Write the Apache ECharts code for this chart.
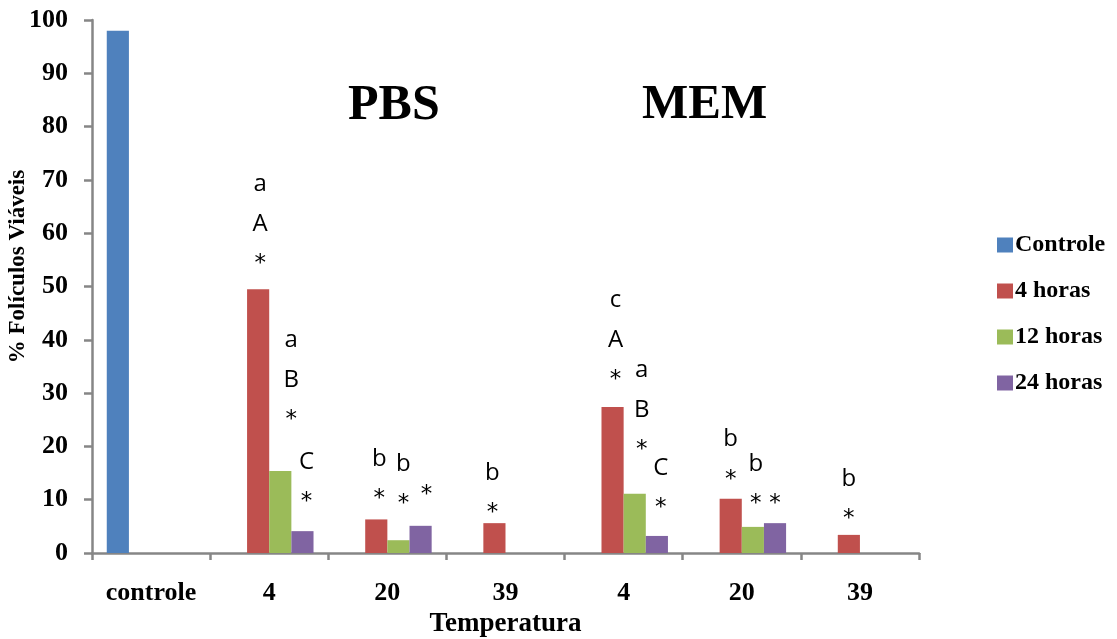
<!DOCTYPE html>
<html>
<head>
<meta charset="utf-8">
<script src="https://cdn.jsdelivr.net/npm/echarts@6/dist/echarts.min.js"></script>
<style>
html,body{margin:0;padding:0;background:#fff;}
#chart{width:1117px;height:639px;}
</style>
</head>
<body>
<div id="chart"></div>
<script>
// ---- data ----
const categories = ['controle', '4', '20', '39', '4', '20', '39'];
const seriesNames = ['Controle', '4 horas', '12 horas', '24 horas'];
const controle = [98, null, null, null, null, null, null];
const horas4  = [null, 49.5, 6.3, 5.6, 27.4, 10.2, 3.4];
const horas12 = [null, 15.4, 2.4, null, 11.1, 4.9, null];
const horas24 = [null, 4.1, 5.1, null, 3.2, 5.6, null];
// significance annotations
const ann4  = ['', 'a\nA\n*', 'b\n*', 'b\n*', 'c\nA\n*', 'b\n*', 'b\n*'];
const ann12 = ['', 'a\nB\n*', 'b\n*', '', 'a\nB\n*', 'b\n*', ''];
const ann24 = ['', 'C\n*', '*', '', 'C\n*', '*', ''];
const groupTitles = ['PBS', 'MEM'];
const yTicks = { min: 0, max: 100, interval: 10 };

// ---- layout (label placement, px) ----
const lift4  = [0, 27, 22, 12, 29, 21, 18], shift4  = [0, 2, 3, -2, 3, 0, 0];
const lift12 = [0, 53, 38, 0, 46, 25, 0],   shift12 = [0, 11, 5, 0, 7, 3, 0];
const lift24 = [0, 31, 33, 0, 30, 21, 0],   shift24 = [0, 4, 6, 0, 4, 0, 0];
const STAR_K = 22;

const serif = 'Liberation Serif';
const annFont = { fontFamily: 'Open Sans', fontSize: 24, lineHeight: 40, color: '#000' };
const annRich = { s: { fontFamily: 'DejaVu Sans', fontSize: 23, lineHeight: 40, color: '#000' } };

function fmt(t) {
  return t.split('\n').map(l => l === '*' ? '{s|*}' : l).join('\n');
}

function build(values, ann, lift, shift) {
  return values.map((v, i) => {
    if (v == null) return null;
    if (!ann || !ann[i]) return { value: v };
    return {
      value: v,
      label: {
        show: true, position: 'top', distance: 0,
        formatter: fmt(ann[i]),
        offset: [shift[i], -(lift[i] - STAR_K)],
        rich: annRich,
        ...annFont
      }
    };
  });
}

const colors = ['#4F81BD', '#C0504D', '#9BBB59', '#8064A2'];
const chart = echarts.init(document.getElementById('chart'), null, { renderer: 'canvas' });
const axisColor = '#868686';

chart.setOption({
  animation: false,
  color: colors,
  title: [
    { text: groupTitles[0], left: 348, top: 81, padding: 0,
      textStyle: { fontFamily: serif, fontWeight: 'bold', fontSize: 50, color: '#000' } },
    { text: groupTitles[1], left: 642, top: 81, padding: 0,
      textStyle: { fontFamily: serif, fontWeight: 'bold', fontSize: 49, color: '#000' } }
  ],
  grid: { left: 92, right: 198, top: 20, bottom: 86, containLabel: false, outerBoundsMode: 'none' },
  legend: {
    orient: 'vertical', left: 992, top: 228,
    data: seriesNames, icon: 'rect', itemWidth: 16, itemHeight: 15, itemGap: 22,
    textStyle: { fontFamily: serif, fontWeight: 'bold', fontSize: 24, lineHeight: 24, color: '#000', padding: [0, 0, 0, -3] }
  },
  xAxis: {
    type: 'category', data: categories,
    name: 'Temperatura', nameLocation: 'middle', nameGap: 58, nameMoveOverlap: false,
    nameTextStyle: { fontFamily: serif, fontWeight: 'bold', fontSize: 27, color: '#000' },
    axisLine: { lineStyle: { color: axisColor, width: 2.5 } },
    axisTick: { show: true, length: 7, lineStyle: { color: axisColor, width: 2.5 } },
    axisLabel: { interval: 0, fontFamily: serif, fontWeight: 'bold', fontSize: 26, color: '#000', margin: 27 },
    splitLine: { show: false }
  },
  yAxis: {
    type: 'value', min: yTicks.min, max: yTicks.max, interval: yTicks.interval,
    name: '% Folículos Viáveis', nameLocation: 'middle', nameGap: 62, nameRotate: 90, nameMoveOverlap: false,
    nameTextStyle: { fontFamily: serif, fontWeight: 'bold', fontSize: 23, color: '#000', padding: [0, 0, 0, 40] },
    axisLine: { show: true, lineStyle: { color: axisColor, width: 2.5 } },
    axisTick: { show: true, length: 8, lineStyle: { color: axisColor, width: 2.5 } },
    axisLabel: { fontFamily: serif, fontWeight: 'bold', fontSize: 26, color: '#000', margin: 24 },
    splitLine: { show: false }
  },
  series: [
    { name: seriesNames[0], type: 'bar', data: build(controle), barGap: '0%', barCategoryGap: '25%' },
    { name: seriesNames[1], type: 'bar', data: build(horas4, ann4, lift4, shift4), barGap: '0%', barCategoryGap: '25%' },
    { name: seriesNames[2], type: 'bar', data: build(horas12, ann12, lift12, shift12), barGap: '0%', barCategoryGap: '25%' },
    { name: seriesNames[3], type: 'bar', data: build(horas24, ann24, lift24, shift24), barGap: '0%', barCategoryGap: '25%' }
  ]
});
</script>
</body>
</html>
